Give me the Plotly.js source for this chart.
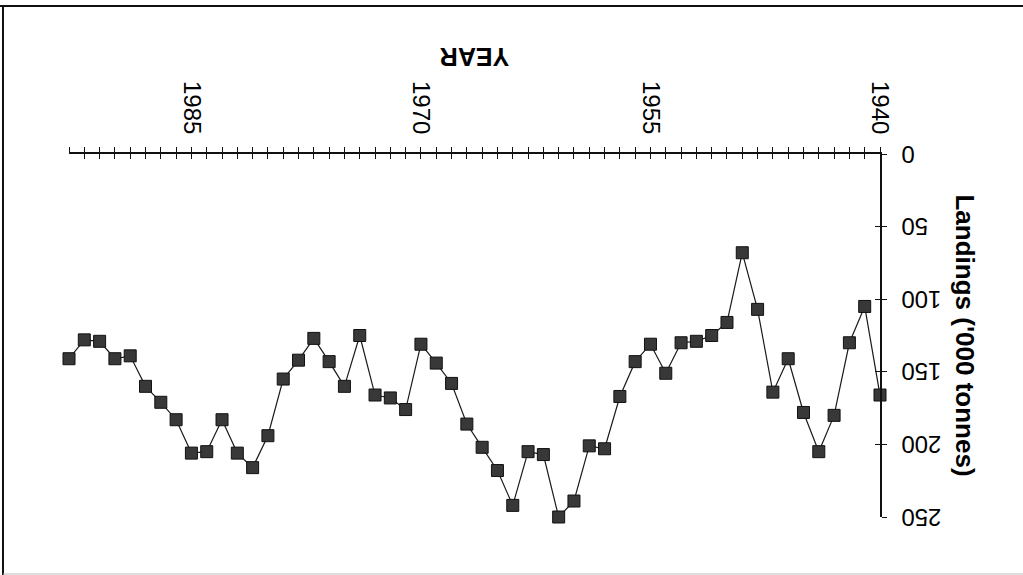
<!DOCTYPE html>
<html>
<head>
<meta charset="utf-8">
<script src="https://cdn.plot.ly/plotly-3.0.1.min.js"></script>
<style>
  html, body { margin: 0; padding: 0; background: #fff; }
  #chart { width: 1023px; height: 575px; transform: rotate(180deg); }
</style>
</head>
<body>
<div id="chart"></div>
<script>
// Data (the scanned figure is printed upside down; the page is rotated 180°)
const years = [1940, 1941, 1942, 1943, 1944, 1945, 1946, 1947, 1948, 1949,
               1950, 1951, 1952, 1953, 1954, 1955, 1956, 1957, 1958, 1959,
               1960, 1961, 1962, 1963, 1964, 1965, 1966, 1967, 1968, 1969,
               1970, 1971, 1972, 1973, 1974, 1975, 1976, 1977, 1978, 1979,
               1980, 1981, 1982, 1983, 1984, 1985, 1986, 1987, 1988, 1989,
               1990, 1991, 1992, 1993];
const landings = [166, 105, 130, 180, 205, 178, 141, 164, 107, 68,
                  116, 125, 129, 130, 151, 131, 143, 167, 203, 201,
                  239, 250, 207, 205, 242, 218, 202, 186, 158, 144,
                  131, 176, 168, 166, 125, 160, 143, 127, 142, 155,
                  194, 216, 206, 183, 205, 206, 183, 171, 160, 139,
                  141, 129, 128, 141];
const xTickVals = [1940, 1955, 1970, 1985];
const xTickText = ["1940", "1955", "1970", "1985"];
const yTickVals = [0, 50, 100, 150, 200, 250];
const yTickText = ["0", "50", "100", "150", "200", "250"];
const xTitle = "YEAR";
const yTitle = "Landings ('000 tonnes)";

const FONT = "'Liberation Sans', Arial, Helvetica, sans-serif";

const traces = [
  {
    x: years, y: landings, type: "scatter", mode: "lines+markers",
    line: { color: "#1a1a1a", width: 1.2 },
    marker: { symbol: "square", size: 12, color: "#383838", line: { color: "#111", width: 1 } },
    cliponaxis: false, hoverinfo: "x+y", showlegend: false
  },
  {
    // companion trace so the inward half of the crossing ticks is drawn
    x: years, y: landings, xaxis: "x2", yaxis: "y2", type: "scatter", mode: "lines",
    line: { width: 0 }, opacity: 0, hoverinfo: "skip", showlegend: false
  }
];

const layout = {
  width: 1023, height: 575,
  margin: { l: 143, r: 69, t: 58, b: 154 },
  paper_bgcolor: "#fff", plot_bgcolor: "#fff",
  font: { family: FONT, color: "#000" },
  showlegend: false,
  xaxis: {
    range: [1940, 1993], showgrid: false, zeroline: false,
    showline: true, linecolor: "#111", linewidth: 2,
    tickmode: "array", tickvals: xTickVals, ticktext: xTickText,
    tickangle: -90, tickfont: { size: 24, family: FONT, color: "#000" },
    ticks: "outside", ticklen: 5, tickwidth: 1, tickcolor: "#111",
    minor: { ticks: "outside", dtick: 1, tick0: 1940, ticklen: 5, tickwidth: 1, tickcolor: "#111" },
    ticklabelstandoff: 3,
    title: { text: xTitle, standoff: 17, font: { size: 25, family: FONT, weight: "bold", color: "#000" } }
  },
  yaxis: {
    range: [0, 250], showgrid: false, zeroline: false,
    showline: true, linecolor: "#111", linewidth: 1.5,
    tickmode: "array", tickvals: yTickVals, ticktext: yTickText,
    tickfont: { size: 24, family: FONT, color: "#000" },
    ticks: "outside", ticklen: 5, tickwidth: 1, tickcolor: "#111",
    ticklabelstandoff: 10,
    title: { text: yTitle, standoff: 6, font: { size: 26, family: FONT, weight: "bold", color: "#000" } }
  },
  xaxis2: {
    overlaying: "x", anchor: "y2", side: "bottom", range: [1940, 1993],
    showgrid: false, zeroline: false, showline: false, showticklabels: false,
    tickmode: "linear", tick0: 1940, dtick: 1,
    ticks: "inside", ticklen: 5, tickwidth: 1, tickcolor: "#111"
  },
  yaxis2: {
    overlaying: "y", anchor: "x2", side: "left", range: [0, 250],
    showgrid: false, zeroline: false, showline: false, showticklabels: false,
    tickmode: "array", tickvals: yTickVals,
    ticks: "inside", ticklen: 5, tickwidth: 1, tickcolor: "#111"
  },
  shapes: [
    { type: "line", xref: "paper", yref: "paper", x0: -0.18, x1: 1.09, y0: -0.4077, y1: -0.4077,
      line: { color: "#111", width: 2 } },
    { type: "line", xref: "paper", yref: "paper", x0: 1.0814, x1: 1.0814, y0: -0.4077, y1: 1.16,
      line: { color: "#111", width: 2 } },
    { type: "line", xref: "paper", yref: "paper", x0: -0.18, x1: 1.0814, y0: 1.157, y1: 1.157,
      line: { color: "#bbb", width: 1 } }
  ]
};

Plotly.newPlot("chart", traces, layout, { displayModeBar: false, staticPlot: true });
</script>
</body>
</html>
